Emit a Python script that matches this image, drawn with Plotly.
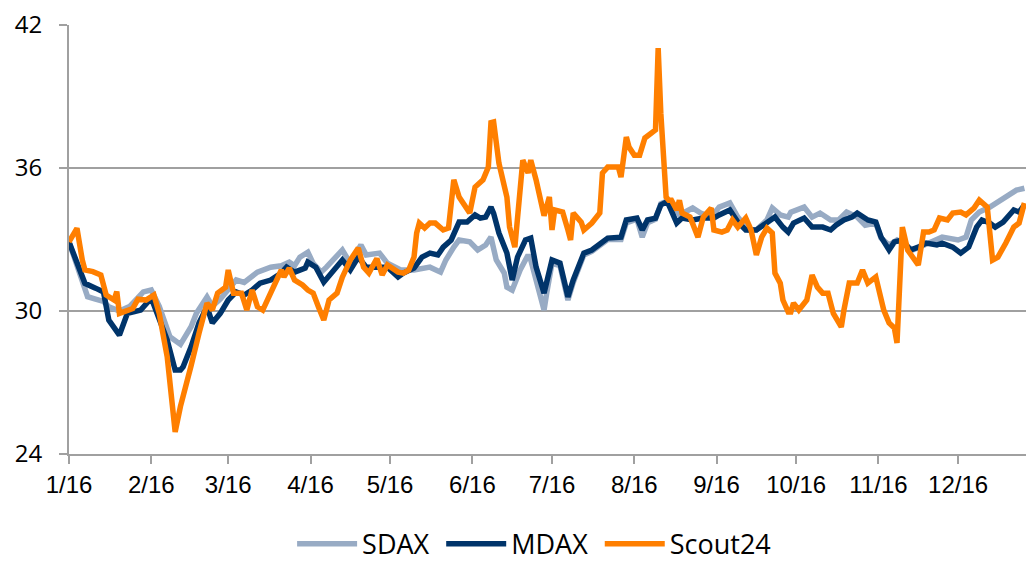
import pandas as pd
import plotly.graph_objects as go

START = pd.Timestamp("2016-01-01")

# ---- data (day offset from 1 Jan 2016, value) ----
sdax_days = [0, 7, 10, 13, 15, 19, 23, 28, 31, 34, 38, 41, 42, 46, 48, 52, 54, 57, 63, 66, 71, 76, 80, 83, 85,
             87, 90, 92, 95, 97, 103, 106, 110, 112, 117, 120, 125, 130, 133, 136, 140, 142, 145, 147, 151, 154,
             157, 159, 161, 164, 165, 167, 170, 173, 174, 177, 179, 180, 182, 185, 188, 190, 194, 197, 201, 203,
             208, 210, 214, 216, 218, 221, 223, 225, 227, 230, 235, 238, 242, 245, 249, 252, 256, 259, 263, 265,
             268, 271, 272, 277, 280, 283, 287, 290, 293, 297, 300, 304, 306, 309, 312, 316, 318, 324, 329, 335,
             338, 340, 343, 347, 351, 354, 357, 360]
sdax_vals = [32.9, 30.6, 30.5, 30.4, 30.18, 30.0, 30.2, 30.8, 30.88, 30.2, 28.92, 28.65, 28.6, 29.34, 29.9, 30.59,
             30.2, 30.5, 31.3, 31.2, 31.63, 31.84, 31.9, 32.05, 31.9, 32.26, 32.47, 32.0, 31.63, 31.84, 32.56,
             32.0, 32.77, 32.35, 32.43, 32.0, 31.72, 31.72, 31.8, 31.84, 31.63, 32.14, 32.68, 32.98, 32.9, 32.56,
             32.77, 33.1, 32.14, 31.59, 31.0, 30.88, 31.72, 32.35, 32.14, 31.0, 30.04, 30.75, 32.0, 31.9, 30.46,
             31.2, 32.35, 32.5, 32.8, 33.0, 33.0, 33.7, 33.85, 33.1, 33.7, 33.85, 34.5, 34.6, 34.53, 34.03, 34.32,
             34.11, 33.94, 34.36, 34.53, 33.94, 33.4, 33.4, 33.82, 34.32, 34.03, 33.94, 34.15, 34.36, 33.94, 34.11,
             33.82, 33.82, 34.15, 33.94, 33.6, 33.69, 33.06, 32.77, 32.98, 32.68, 32.56, 32.85, 33.1, 32.98, 33.1,
             33.82, 34.15, 34.36, 34.65, 34.86, 35.07, 35.15]

mdax_days = [0, 6, 10, 13, 15, 17, 19, 22, 27, 31, 34, 37, 40, 42, 43, 46, 49, 52, 54, 57, 60, 63, 66, 69, 72,
             76, 80, 82, 85, 89, 90, 93, 96, 99, 103, 106, 109, 112, 116, 120, 124, 126, 130, 133, 136, 139, 141,
             144, 147, 150, 153, 155, 157, 159, 160, 162, 165, 167, 169, 172, 174, 176, 179, 182, 185, 188, 190,
             194, 197, 201, 203, 208, 210, 214, 216, 218, 221, 223, 225, 226, 229, 231, 235, 239, 243, 245, 249,
             252, 255, 259, 263, 266, 269, 271, 273, 277, 280, 284, 287, 289, 292, 295, 297, 301, 304, 306, 309,
             311, 314, 317, 320, 323, 327, 329, 333, 336, 339, 342, 344, 347, 349, 352, 355, 356, 358, 360]
mdax_vals = [32.9, 31.16, 30.96, 30.8, 29.62, 29.34, 28.99, 29.9, 30.04, 30.54, 29.7, 28.78, 27.52, 27.52, 27.66,
             28.5, 29.5, 30.17, 29.5, 29.9, 30.46, 30.8, 30.67, 30.88, 31.17, 31.3, 31.59, 31.84, 31.63, 31.8,
             32.05, 31.84, 31.21, 31.59, 32.14, 31.72, 32.26, 31.84, 31.84, 31.84, 31.43, 31.59, 31.8, 32.26,
             32.43, 32.35, 32.68, 32.98, 33.73, 33.73, 34.03, 33.9, 33.94, 34.36, 34.1, 33.27, 32.43, 31.3, 32.26,
             32.98, 33.06, 31.84, 30.75, 32.14, 32.01, 30.59, 31.3, 32.43, 32.56, 32.85, 33.06, 33.1, 33.82, 33.9,
             33.4, 33.82, 33.9, 34.45, 34.57, 34.45, 33.69, 33.9, 33.82, 33.9, 33.9, 34.03, 34.24, 33.73, 33.4,
             33.4, 33.69, 33.94, 33.52, 33.31, 33.69, 33.9, 33.52, 33.52, 33.4, 33.6, 33.82, 33.94, 34.11, 33.82,
             33.73, 33.1, 32.56, 32.9, 32.98, 32.56, 32.68, 32.85, 32.77, 32.85, 32.68, 32.43, 32.68, 33.52, 33.82,
             33.69, 33.52, 33.73, 34.11, 34.24, 34.15, 34.45]

scout_days = [0, 3, 5, 6, 9, 12, 14, 17, 18, 19, 24, 26, 29, 32, 34, 37, 40, 42, 46, 47, 49, 52, 54, 56, 59, 60,
              62, 65, 67, 69, 71, 73, 76, 78, 80, 81, 83, 85, 88, 90, 92, 94, 96, 98, 101, 103, 106, 109, 111, 113,
              116, 118, 120, 124, 126, 128, 130, 131, 132, 134, 136, 138, 141, 143, 145, 147, 151, 153, 156, 158,
              159, 160, 162, 165, 166, 168, 170, 171, 173, 174, 176, 179, 181, 182, 183, 186, 188, 189, 190, 193,
              194, 197, 200, 201, 203, 207, 208, 210, 211, 213, 215, 217, 221, 222, 223, 225, 226, 227, 229, 230,
              231, 234, 237, 239, 242, 243, 246, 248, 250, 252, 255, 257, 259, 261, 263, 265, 266, 268, 269, 271,
              272, 273, 275, 278, 280, 282, 284, 286, 288, 291, 292, 294, 297, 299, 301, 303, 304, 307, 309, 311,
              312, 314, 316, 320, 322, 324, 326, 328, 331, 333, 336, 338, 341, 343, 345, 346, 348, 350, 353, 356,
              358, 360]
scout_vals = [32.9, 33.47, 32.14, 31.72, 31.65, 31.51, 30.67, 30.46, 30.81, 29.9, 30.1, 30.5, 30.46, 30.67, 29.9,
              28.08, 24.93, 26.0, 27.7, 28.2, 29.07, 30.33, 30.04, 30.75, 31.0, 31.72, 30.75, 30.75, 30.04, 30.88,
              30.18, 30.04, 30.75, 31.3, 31.72, 31.43, 31.8, 31.3, 31.09, 30.88, 30.75, 30.17, 29.62, 30.46, 30.75,
              31.42, 32.14, 32.64, 31.84, 31.59, 32.2, 31.51, 31.93, 31.63, 31.59, 31.72, 32.26, 33.27, 33.69, 33.48,
              33.69, 33.69, 33.4, 33.48, 35.5, 34.78, 34.11, 35.2, 35.5, 36.04, 37.9, 37.93, 36.2, 34.78, 33.52,
              32.68, 34.78, 36.33, 35.79, 36.33, 35.5, 34.0, 34.78, 33.4, 34.24, 34.15, 33.4, 32.98, 34.11, 33.73,
              33.4, 33.69, 34.11, 35.79, 36.04, 36.04, 35.62, 37.3, 36.88, 36.54, 36.54, 37.26, 37.6, 41.03, 38.3,
              34.78, 34.65, 34.65, 34.24, 34.65, 34.11, 33.94, 33.1, 33.94, 34.32, 33.4, 33.31, 33.4, 33.82, 33.52,
              33.9, 33.4, 32.35, 33.1, 33.48, 33.27, 31.59, 31.17, 30.46, 29.96, 29.96, 30.33, 30.04, 30.46, 31.51,
              31.0, 30.75, 30.75, 29.9, 29.33, 30.04, 31.17, 31.17, 31.72, 31.17, 31.3, 31.43, 30.04, 29.5, 29.29,
              28.66, 33.52, 32.56, 31.93, 33.31, 33.31, 33.4, 33.9, 33.82, 34.11, 34.15, 34.03, 34.32, 34.65, 34.45,
              34.36, 32.14, 32.26, 32.85, 33.52, 33.69, 34.53]

series_names = ["SDAX", "MDAX", "Scout24"]
series_colors = ["#98abc4", "#00346a", "#ff7f00"]

y_ticks = [24, 30, 36, 42]
month_ticks = pd.date_range("2016-01-01", "2016-12-01", freq="MS")
month_labels = [f"{d.month}/16" for d in month_ticks]


def to_dates(days):
    return [START + pd.Timedelta(days=d) for d in days]


fig = go.Figure()
for i, (name, days, vals, col) in enumerate(zip(series_names,
                                                [sdax_days, mdax_days, scout_days],
                                                [sdax_vals, mdax_vals, scout_vals],
                                                series_colors)):
    # a non-breaking space widens the gap between legend entries like the reference
    label = name + ("\u00a0" if i < len(series_names) - 1 else "")
    fig.add_trace(go.Scatter(x=to_dates(days), y=vals, name=label, mode="lines",
                             line=dict(color=col, width=5.5)))

axis_gray = "#a0a0a0"
fig.update_layout(
    width=1026, height=562,
    margin=dict(l=69, r=0, t=25, b=108, autoexpand=False),
    paper_bgcolor="white", plot_bgcolor="white",
    showlegend=True,
    legend=dict(orientation="h", x=0.486, xanchor="center",
                y=-0.21, yanchor="middle",
                itemwidth=60,
                font=dict(family="Open Sans", size=27, color="#000000")),
    xaxis=dict(
        type="date",
        range=[START, START + pd.Timedelta(days=360.6)],
        tickvals=list(month_ticks), ticktext=month_labels,
        showgrid=False, showline=True, linecolor=axis_gray, linewidth=2,
        ticks="outside", ticklen=8, tickwidth=2, tickcolor=axis_gray,
        tickfont=dict(family="Liberation Sans", size=24, color="#000000"),
        zeroline=False,
    ),
    yaxis=dict(
        range=[24, 42], tickvals=y_ticks,
        showgrid=True, gridcolor=axis_gray, gridwidth=2,
        showline=True, linecolor=axis_gray, linewidth=2,
        ticks="outside", ticklen=8, tickwidth=2, tickcolor=axis_gray,
        ticklabelstandoff=12, ticklabeloverflow="allow",
        tickfont=dict(family="Open Sans", size=24, color="#000000"),
        zeroline=False,
    ),
)

# remove the browser's default 8px page margin so the figure sits at the window's origin
fig.write_html("out.html",
               config={"displayModeBar": False},
               post_script="document.body.style.margin='0';document.body.style.overflow='hidden';")
